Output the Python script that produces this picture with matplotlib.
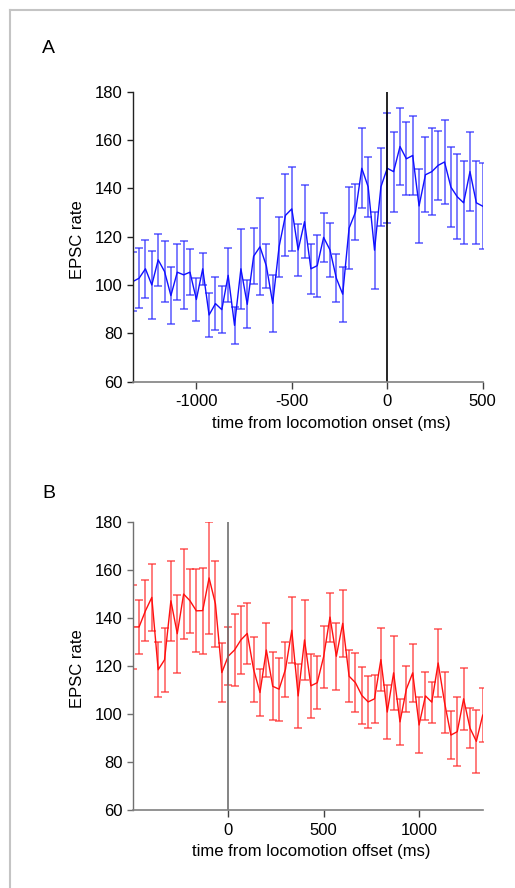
import numpy as np
import matplotlib
matplotlib.use("Agg")
import matplotlib.pyplot as plt
from matplotlib.lines import Line2D

plt.rcParams['font.family'] = ['Liberation Sans', 'DejaVu Sans']

# time bins (ms), 30 Hz frames
bin_ms = 1000.0 / 30.0
t_onset = -1333.33 + bin_ms * np.arange(56)
t_offset = -500.0 + bin_ms * np.arange(56)

# A: locomotion onset
onset_mean = [101.4, 102.8, 106.7, 100.0, 110.4, 105.6, 95.6, 105.3, 104.2, 105.3,
              94.0, 106.7, 87.6, 92.3, 89.8, 104.0, 83.3, 106.7, 92.0, 111.9,
              115.8, 107.9, 92.4, 115.8, 128.8, 131.5, 114.5, 126.2, 106.7, 108.0,
              119.7, 114.5, 102.8, 96.2, 123.5, 130.1, 148.3, 140.6, 114.4, 140.6,
              148.3, 146.9, 157.3, 152.2, 153.6, 132.7, 145.6, 146.9, 149.5, 150.9,
              140.5, 136.5, 134.0, 146.9, 134.0, 132.6]
onset_err = [12.3, 12.4, 12.1, 13.9, 10.8, 12.6, 11.7, 11.7, 14.0, 9.4,
             8.8, 6.6, 9.1, 10.9, 9.7, 11.2, 7.7, 16.5, 10.0, 11.6,
             20.1, 9.2, 11.8, 12.5, 17.0, 17.3, 10.7, 15.2, 10.3, 12.8,
             10.0, 11.3, 10.0, 11.4, 16.9, 11.6, 16.6, 12.3, 16.0, 16.1,
             22.8, 16.6, 16.1, 15.1, 16.2, 15.2, 15.5, 18.0, 14.4, 17.4,
             16.6, 17.5, 17.1, 16.4, 17.1, 17.8]

# B: locomotion offset
offset_mean = [136.2, 136.2, 142.9, 148.5, 118.4, 122.5, 147.1, 133.4, 149.9, 147.1,
               142.9, 143.0, 156.6, 145.8, 117.2, 124.0, 126.6, 130.8, 133.5, 118.5,
               108.9, 126.6, 111.5, 110.3, 118.5, 134.8, 107.5, 130.8, 111.7, 113.0,
               123.8, 140.3, 124.0, 137.7, 115.7, 113.0, 107.7, 105.0, 106.3, 122.6,
               100.8, 117.1, 96.7, 110.3, 117.1, 95.4, 107.5, 104.9, 121.2, 104.8,
               91.2, 92.6, 106.3, 94.1, 88.6, 99.5]
offset_err = [17.4, 11.2, 12.7, 14.0, 11.4, 13.3, 16.6, 16.3, 18.7, 13.3,
              17.3, 17.9, 23.4, 18.0, 12.3, 12.0, 15.0, 14.0, 12.7, 13.4,
              9.8, 11.2, 14.1, 13.1, 11.6, 13.8, 13.3, 16.5, 13.2, 11.0,
              13.0, 10.2, 13.9, 14.0, 10.9, 12.4, 11.9, 10.7, 10.1, 13.0,
              11.2, 15.5, 9.6, 9.7, 12.1, 11.6, 10.1, 8.5, 14.0, 12.6,
              10.0, 14.4, 12.8, 8.4, 13.1, 11.2]

fig = plt.figure(figsize=(5.15, 8.88), dpi=100)

# light frame on left and top
fig.add_artist(Line2D([10/515, 10/515], [0, 1 - 10/888], color='#c4c4c4', lw=1.5))
fig.add_artist(Line2D([10/515, 1], [1 - 10/888, 1 - 10/888], color='#c4c4c4', lw=1.5))


def panel(rect, t, mean, err, color, ecolor, xlim, xticks, xlabel, xlab_x, lspine, zcolor):
    ax = fig.add_axes(rect)
    ax.errorbar(t, mean, yerr=err, fmt='none', ecolor=ecolor, elinewidth=1.2,
                capsize=2.6, capthick=1.2)
    ax.plot(t, mean, color=color, lw=1.0)
    ax.axvline(0, color=zcolor, lw=1.2)
    ax.set_xlim(*xlim)
    ax.set_ylim(60, 180)
    ax.set_yticks([60, 80, 100, 120, 140, 160, 180])
    ax.set_xticks(xticks)
    ax.set_xticklabels([str(v) for v in xticks])
    for s in ['top', 'right']:
        ax.spines[s].set_visible(False)
    ax.spines['left'].set_color(lspine)
    ax.spines['bottom'].set_color('#808080')
    ax.spines['left'].set_linewidth(1.0)
    ax.spines['bottom'].set_linewidth(1.2)
    ax.tick_params(axis='y', direction='out', length=4, width=1, color=lspine,
                   labelsize=12, pad=3)
    ax.tick_params(axis='x', direction='out', length=5, width=1, color='#404040',
                   labelsize=12, pad=4)
    ax.set_ylabel('EPSC rate', fontsize=12)
    ax.yaxis.set_label_coords(-0.136, 0.49)
    ax.set_xlabel(xlabel, fontsize=12)
    ax.xaxis.set_label_coords(xlab_x, -0.117)
    return ax


panel([0.2577, 0.5702, 0.6796, 0.3266], t_onset, onset_mean, onset_err,
      '#1010ff', (0.15, 0.15, 1.0, 0.7), (-1333.33, 500), [-1000, -500, 0, 500],
      'time from locomotion onset (ms)', 0.567, '#222222', 'black')
fig.text(42/515, 1 - 53/888, 'A', fontsize=14)

panel([0.2577, 0.0878, 0.6796, 0.3247], t_offset, offset_mean, offset_err,
      '#ff1010', (1.0, 0.15, 0.15, 0.7), (-500, 1333.33), [0, 500, 1000],
      'time from locomotion offset (ms)', 0.51, '#707070', '#707070')
fig.text(42/515, 1 - 498/888, 'B', fontsize=14)

fig.savefig('out.png', dpi=100)
